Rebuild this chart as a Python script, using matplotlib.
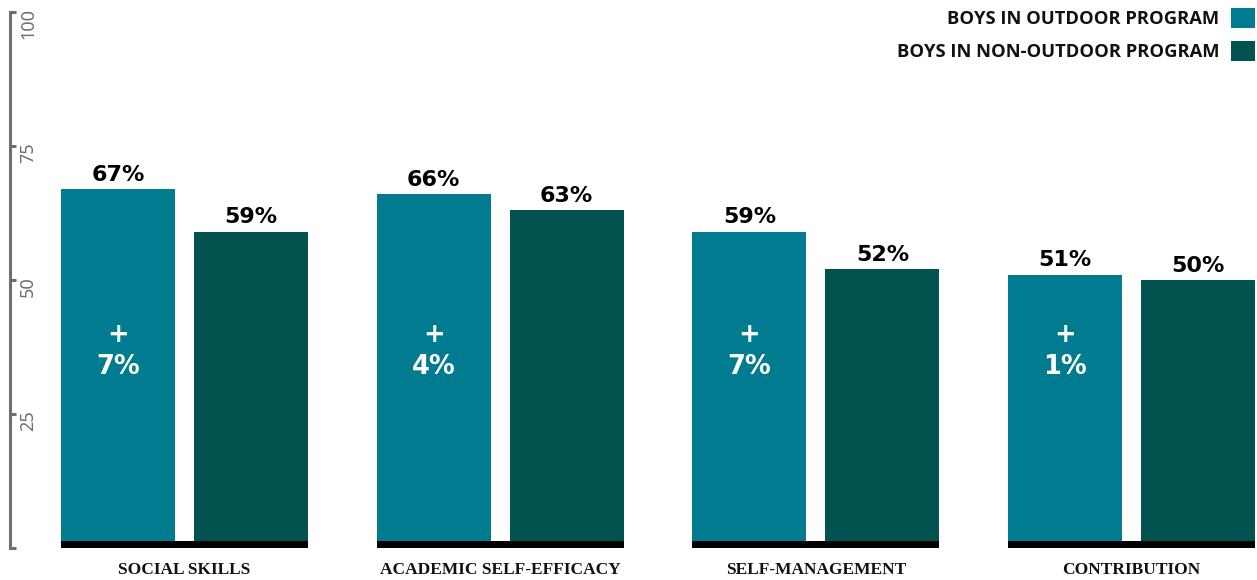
import matplotlib
matplotlib.use("Agg")
import matplotlib.pyplot as plt
import numpy as np
from matplotlib import transforms

categories = ["SOCIAL SKILLS", "ACADEMIC SELF-EFFICACY", "SELF-MANAGEMENT", "CONTRIBUTION"]
outdoor = [67, 66, 59, 51]
non_outdoor = [59, 63, 52, 50]
difference = [7, 4, 7, 1]
series_names = ["BOYS IN OUTDOOR PROGRAM", "BOYS IN NON-OUTDOOR PROGRAM"]
y_ticks = [0, 25, 50, 75, 100]
y_tick_labels = ["", "25", "50", "75", "100"]

TEAL = "#007b8f"
DARK_TEAL = "#02524f"
GREY = "#6d6e71"

W, H = 1257, 580
fig = plt.figure(figsize=(W / 100, H / 100), dpi=100)
# axes box: spine at x=10px, y=0 at 548px, y=100 at 12px (from top)
ax = fig.add_axes([10 / W, 32 / H, 1 - 10 / W, 536 / H])

x = np.arange(len(categories))
bar_w = 0.361
off = 0.2107
b1 = ax.bar(x - off, outdoor, bar_w, color=TEAL, label=series_names[0], zorder=2)
b2 = ax.bar(x + off, non_outdoor, bar_w, color=DARK_TEAL, label=series_names[1], zorder=2)
# black base strip under each pair
ax.bar(x, 1.35, 0.7825, color="black", zorder=3)

for xs, vals in ((x - off, outdoor), (x + off, non_outdoor)):
    for xi, v in zip(xs, vals):
        ax.annotate(f"{v}%", (xi, v), xytext=(0, 6), textcoords="offset points",
                    ha="center", va="baseline", fontsize=16, fontweight="bold",
                    family="DejaVu Sans", color="black")
for xi, d in zip(x - off, difference):
    ax.text(xi, 39.7, "+", ha="center", va="center", fontsize=18.5,
            fontweight="bold", color="white", zorder=4)
    ax.text(xi, 33.8, f"{d}%", ha="center", va="center", fontsize=18.5,
            fontweight="bold", color="white", zorder=4)

ax.set_xlim(-0.5528, 3.3976)
ax.set_ylim(0, 100)

for s in ["top", "right", "bottom"]:
    ax.spines[s].set_visible(False)
ax.spines["left"].set_color(GREY)
ax.spines["left"].set_linewidth(2.2)
ax.spines["left"].set_bounds(0, 100)

ax.set_yticks(y_ticks)
ax.set_yticklabels([])
ax.tick_params(axis="y", direction="in", length=4.5, width=2.2, color=GREY)

# rotated y tick labels sit just inside the spine
lab_tr = transforms.offset_copy(ax.get_yaxis_transform(), fig=fig, x=13, units="points")
for t, lab in zip(y_ticks, y_tick_labels):
    if not lab:
        continue
    if t == 100:
        ax.text(0, t + 0.7, lab, transform=lab_tr, rotation=90, ha="center", va="top",
                fontsize=13, color=GREY, family="Noto Sans", clip_on=False)
    else:
        ax.text(0, t - 1.2, lab, transform=lab_tr, rotation=90, ha="center", va="center",
                fontsize=13, color=GREY, family="Noto Sans")

ax.set_xticks(x)
ax.set_xticklabels(categories, family="Liberation Serif", fontweight="bold",
                   fontsize=12.5, color="#111111")
ax.tick_params(axis="x", length=0, pad=10)

leg = fig.legend(handles=[b1, b2], loc="upper right",
                 bbox_to_anchor=(1 - 2 / W, 1 - 8 / H), markerfirst=False,
                 frameon=False, borderpad=0, borderaxespad=0,
                 handlelength=1.3, handleheight=1.3, handletextpad=0.66,
                 labelspacing=0.72,
                 prop={"family": "Open Sans", "weight": "bold", "size": 13.2})
for t in leg.get_texts():
    t.set_color("#111111")

fig.savefig("out.png", dpi=100)
